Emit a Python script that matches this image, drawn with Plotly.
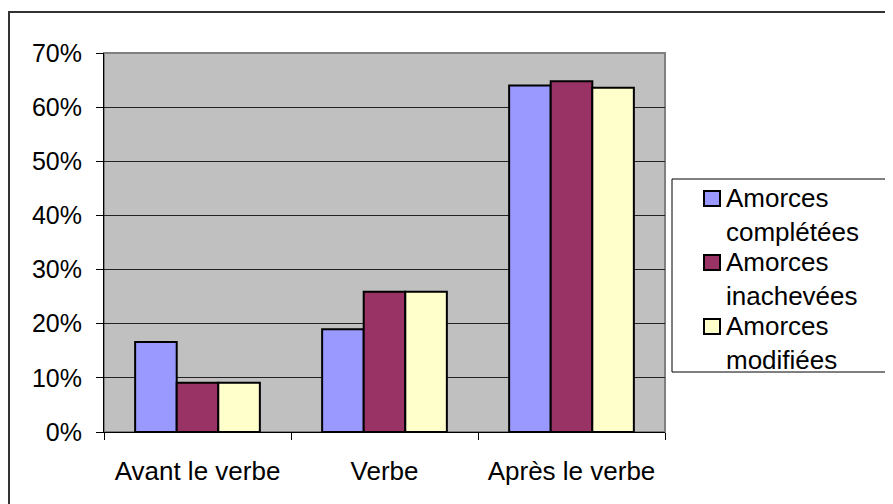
import plotly.graph_objects as go

categories = ["Avant le verbe", "Verbe", "Après le verbe"]
series_names = ["Amorces<br>complétées", "Amorces<br>inachevées", "Amorces<br>modifiées"]
completees = [0.166, 0.190, 0.640]
inachevees = [0.091, 0.259, 0.648]
modifiees = [0.091, 0.259, 0.636]
colors = ["#9999FF", "#993366", "#FFFFCC"]
y_ticks = [0, 0.1, 0.2, 0.3, 0.4, 0.5, 0.6, 0.7]

FONT = "Liberation Sans, Arial, sans-serif"

# page offset from default body margin
OFF = 8
W, H = 893 - OFF, 504 - OFF
# plot area in page pixels
PL, PR, PT, PB = 104, 665, 53, 432
L, R, T, B = PL - OFF, W - (PR - OFF), PT - OFF, H - (PB - OFF)
pw, ph = PR - PL, PB - PT


def px(x):
    return (x - PL) / pw


def py(y):
    return (PB - y) / ph


fig = go.Figure()
for name, vals, col in zip(series_names, [completees, inachevees, modifiees], colors):
    fig.add_trace(go.Bar(
        x=categories, y=vals, name=name,
        marker=dict(color=col, line=dict(color="#000000", width=2)),
        showlegend=False,
    ))

shapes = [
    dict(type="rect", xref="x domain", yref="y domain", x0=0, x1=1, y0=0, y1=1,
         line=dict(color="#808080", width=2), layer="below"),
    dict(type="rect", xref="paper", yref="paper",
         x0=px(9), x1=px(905), y0=py(520), y1=py(12),
         line=dict(color="#333333", width=2), fillcolor="rgba(0,0,0,0)"),
    dict(type="rect", xref="paper", yref="paper",
         x0=px(672), x1=px(892), y0=py(372), y1=py(179),
         line=dict(color="#000000", width=1), fillcolor="rgba(0,0,0,0)"),
]
annotations = []
# legend entries (manual, to match the original spacing)
first_line_y = [198, 262, 326]
for name, col, yy in zip(series_names, colors, first_line_y):
    shapes.append(dict(type="rect", xref="paper", yref="paper",
                       x0=px(704), x1=px(720), y0=py(yy + 8), y1=py(yy - 7),
                       line=dict(color="#000000", width=2), fillcolor=col))
    annotations.append(dict(xref="paper", yref="paper", x=px(724), y=py(yy + 17),
                            xanchor="left", yanchor="middle", align="left",
                            text=name, showarrow=False,
                            font=dict(family=FONT, size=26, color="#000000")))

fig.update_layout(
    width=W, height=H,
    margin=dict(l=L, r=R, t=T, b=B, pad=0),
    paper_bgcolor="white",
    plot_bgcolor="#C0C0C0",
    barmode="group",
    bargap=0.333,
    bargroupgap=0,
    font=dict(family=FONT, size=25, color="#000000"),
    showlegend=False,
    xaxis=dict(
        showgrid=False, showline=True, linecolor="#000000", linewidth=1,
        ticks="outside", ticklen=7, tickcolor="#000000", tickson="boundaries",
        ticklabelstandoff=16,
        tickfont=dict(family=FONT, size=26, color="#000000"),
    ),
    yaxis=dict(
        range=[0, 0.7], tickvals=y_ticks, tickformat=".0%",
        showgrid=True, gridcolor="#222222", gridwidth=1,
        showline=True, linecolor="#000000", linewidth=1,
        ticks="outside", ticklen=7, tickcolor="#000000",
        ticklabelstandoff=9, zeroline=False,
        tickfont=dict(family=FONT, size=25, color="#000000"),
    ),
    shapes=shapes,
    annotations=annotations,
)

fig.write_html("out.html")
